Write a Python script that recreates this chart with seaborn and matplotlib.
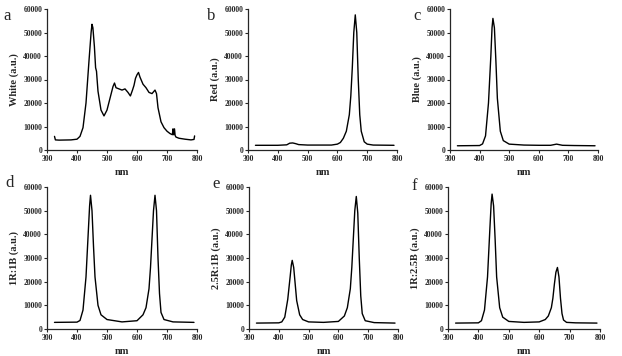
import numpy as np
import pandas as pd
import matplotlib
matplotlib.use("Agg")
import matplotlib.pyplot as plt
import seaborn as sns

# spectra (nm, intensity)
white_nm = [325, 328, 340, 380, 400, 410, 420, 430, 440, 447, 450, 453, 458, 462, 465, 467, 470, 480, 490, 500,
            510, 520, 525, 530, 540, 550, 560, 570, 578, 585, 590, 595, 600, 605, 610, 620, 630, 640, 650, 660,
            665, 670, 680, 690, 700, 710, 718, 720, 722, 725, 727, 730, 740, 760, 780, 790, 792]
white_val = [5800, 4300, 4200, 4300, 4600, 5800, 9500, 20000, 38000, 50000, 53500, 52000, 44000, 35000, 33500, 30000,
             25000, 17000, 14500, 17000, 22000, 27000, 28500, 26500, 26000, 25500, 26000, 24500, 23000, 25500, 27500,
             30500, 32000, 33000, 31000, 28000, 26500, 24500, 24000, 25500, 24000, 18000, 12000, 9500, 8000, 7000,
             6500, 9000, 6500, 9000, 6200, 5500, 5000, 4600, 4300, 4500, 6000]

red_nm = [325, 400, 430, 440, 450, 460, 470, 500, 580, 600, 610, 620, 630, 640, 645, 650, 655, 660, 665, 670, 675,
          680, 690, 700, 720, 790]
red_val = [2000, 2000, 2200, 2900, 3000, 2700, 2300, 2100, 2100, 2500, 3200, 5000, 8000, 15000, 23000, 35000,
           50000, 57500, 50000, 30000, 15000, 8000, 3500, 2500, 2100, 2000]

blue_nm = [325, 400, 410, 420, 430, 438, 442, 445, 450, 455, 460, 470, 480, 500, 550, 600, 640, 660, 680, 720, 790]
blue_val = [1800, 1900, 2600, 6000, 20000, 40000, 52000, 56000, 52000, 38000, 22000, 8000, 4000, 2500, 2100, 2000,
            2000, 2500, 2000, 1900, 1800]

mix_nm = [325, 400, 410, 420, 430, 438, 442, 445, 450, 455, 460, 470, 480, 500, 550, 600, 620, 630, 640, 645, 650,
          655, 660, 665, 670, 675, 680, 690, 720, 790]
r1b1_val = [2800, 2900, 3600, 8000, 22000, 42000, 52000, 56500, 50000, 35000, 22000, 10000, 6000, 4000, 3000, 3500,
            6000, 9000, 17000, 26000, 38000, 50000, 56500, 50000, 30000, 15000, 7000, 4000, 3000, 2800]
r25b1_val = [2500, 2600, 3000, 5000, 12500, 22000, 27000, 29000, 26000, 19000, 12000, 6000, 4000, 3000, 2800, 3200,
             5500, 9000, 17000, 26000, 38000, 50000, 56000, 49000, 30000, 14000, 6500, 3500, 2700, 2500]
r1b25_val = [2500, 2600, 3500, 8000, 22000, 43000, 53000, 57000, 52000, 38000, 22000, 9000, 5000, 3200, 2800, 3000,
             4000, 5500, 9000, 13000, 19000, 24000, 26000, 22000, 13000, 6500, 3800, 2800, 2600, 2500]

panels = [
    ("a", "White (a.u.)", white_nm, white_val),
    ("b", "Red (a.u.)", red_nm, red_val),
    ("c", "Blue (a.u.)", blue_nm, blue_val),
    ("d", "1R:1B (a.u.)", mix_nm, r1b1_val),
    ("e", "2.5R:1B (a.u.)", mix_nm, r25b1_val),
    ("f", "1R:2.5B (a.u.)", mix_nm, r1b25_val),
]

sns.set_style("ticks")
plt.rcParams['font.family'] = ['Liberation Serif', 'DejaVu Serif']

fig = plt.figure(figsize=(6.22, 3.56), dpi=100)
W, H = 622.0, 356.0
# axes boxes in pixels: left, right, top(y=60000), bottom(y=0)
boxes = [(47, 197, 9, 150), (248, 397, 9, 150), (450, 598, 9, 150),
         (47, 197, 187, 329), (249, 398, 187, 329), (448, 600, 187, 329)]
letter_pos = [(3, 16), (207, 16), (413, 16), (5, 183), (212, 184), (411, 186)]

for (letter, ylab, nm, val), (l, r, t, b), (lx, ly) in zip(panels, boxes, letter_pos):
    ax = fig.add_axes([l / W, 1 - b / H, (r - l) / W, (b - t) / H])
    df = pd.DataFrame({"nm": nm, "val": val})
    sns.lineplot(data=df, x="nm", y="val", ax=ax, color="black", linewidth=1.0)
    ax.set_xlim(300, 800)
    ax.set_ylim(0, 60000)
    ax.set_xticks(range(300, 801, 100))
    ax.set_yticks(range(0, 60001, 10000))
    ax.tick_params(labelsize=5.5, length=2, width=0.8, pad=1.5)
    for lab in ax.get_xticklabels() + ax.get_yticklabels():
        lab.set_fontweight("bold")
    ax.set_xlabel("nm", fontsize=7.5, fontweight="bold", labelpad=4)
    ax.set_ylabel(ylab, fontsize=7.5, fontweight="bold", labelpad=3)
    sns.despine(ax=ax)
    for sp in ax.spines.values():
        sp.set_linewidth(0.9)
    fig.text(lx / W, 1 - ly / H, letter, fontsize=12, va="center", ha="left")

fig.savefig("out.png", dpi=100)
